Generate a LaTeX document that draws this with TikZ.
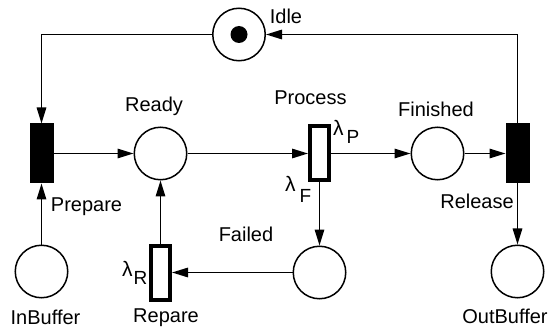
\documentclass[tikz,border=0pt]{standalone}
\usepackage{fontspec}
\setmainfont{Liberation Sans}
\usetikzlibrary{arrows.meta}
\newcommand\lamfont{\fontsize{21}{21}\selectfont}
\newcommand\subfont{\fontsize{19}{19}\selectfont}
\begin{document}
\begin{tikzpicture}[x=1pt,y=-1pt,
  place/.style={circle,draw,line width=1.5pt,minimum size=52.5pt,inner sep=0pt},
  trans/.style={rectangle,draw,fill=black,line width=1.5pt,minimum width=22.5pt,minimum height=58.5pt,inner sep=0pt},
  ttrans/.style={rectangle,draw,fill=white,line width=4pt,minimum width=19pt,minimum height=54pt,inner sep=0pt},
  arc/.style={line width=1.5pt,-{Triangle[length=16pt,width=9.5pt]}},
  lbl/.style={font=\fontsize{20}{20}\selectfont,inner sep=0pt,anchor=base},
  rate/.style={inner sep=0pt,anchor=base west},
  token/.style={circle,fill=black,minimum size=17pt,inner sep=0pt}]
\useasboundingbox (0,0) rectangle (552,334);
% places
\node[place] (idle) at (239,34.5) {};
\node[token] (tok) at (idle) {};
\node[place] (ready) at (160.5,153.5) {};
\node[place] (finished) at (437.5,153.5) {};
\node[place] (failed) at (319.5,272.5) {};
\node[place] (inbuf) at (41.5,271.5) {};
\node[place] (outbuf) at (517.5,271.5) {};
% transitions
\node[trans] (prep) at (41.5,153.5) {};
\node[trans] (rel) at (517.5,153.5) {};
\node[ttrans] (proc) at (319.5,153.5) {};
\node[ttrans] (rep) at (160.5,272.5) {};
% arcs
\draw[arc] (inbuf) -- (prep);
\draw[arc] (prep) -- (ready);
\draw[arc] (ready) -- (proc);
\draw[arc] (proc) -- (finished);
\draw[arc] (finished) -- (rel);
\draw[arc] (rel) -- (outbuf);
\draw[arc] (proc) -- (failed);
\draw[arc] (failed) -- (rep);
\draw[arc] (rep) -- (ready);
\draw[arc] (rel.north) |- (idle.east);
\draw[arc] (idle.west) -| (prep.north);
% labels
\node[lbl] (lidle) at (286,24) {Idle};
\node[lbl] (lready) at (154,111.7) {Ready};
\node[lbl] (lproc) at (310.5,105) {Process};
\node[lbl] (lfin) at (436,116.5) {Finished};
\node[lbl] (lprep) at (86.5,211.5) {Prepare};
\node[lbl] (lrel) at (477,208.3) {Release};
\node[lbl] (lfail) at (246,241.7) {Failed};
\node[lbl] (lin) at (45.5,324.5) {InBuffer};
\node[lbl] (lrep) at (166,322.5) {Repare};
\node[lbl] (lout) at (505,323.5) {OutBuffer};
% rates
\node[rate] (rp) at (333,135.5) {\lamfont λ\hspace{3pt}\raisebox{-8.5pt}{\subfont P}};
\node[rate] (rf) at (285,191.5) {\lamfont λ\hspace{4pt}\raisebox{-11.5pt}{\subfont F}};
\node[rate] (rr) at (122,276) {\lamfont λ\hspace{1pt}\raisebox{-8.5pt}{\subfont R}};
\end{tikzpicture}
\end{document}
